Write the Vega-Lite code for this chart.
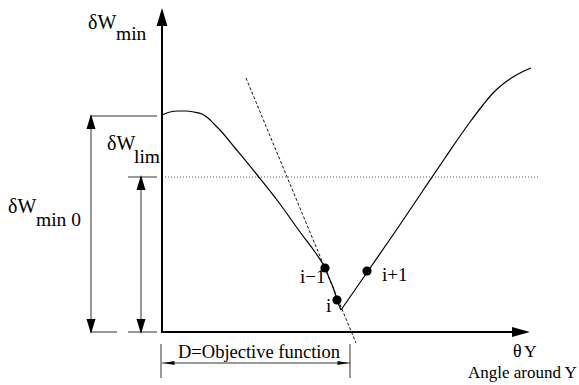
{
  "$schema": "https://vega.github.io/schema/vega-lite/v6.json",
  "width": 579,
  "height": 385,
  "padding": 0,
  "autosize": {"type": "fit", "contains": "padding"},
  "background": "white",
  "config": {"view": {"stroke": null}},
  "datasets": {
    "lines": [
      {"kind": "axis", "seg": "axes", "o": 1, "x": 0, "y": 316},
      {"kind": "axis", "seg": "axes", "o": 2, "x": 0, "y": 0},
      {"kind": "axis", "seg": "axes", "o": 3, "x": 360, "y": 0},

      {"kind": "dim", "seg": "d1", "o": 1, "x": -71, "y": 216},
      {"kind": "dim", "seg": "d1", "o": 2, "x": -5, "y": 216},
      {"kind": "dim", "seg": "d2", "o": 1, "x": -71, "y": 216},
      {"kind": "dim", "seg": "d2", "o": 2, "x": -71, "y": 0},
      {"kind": "dim", "seg": "d3", "o": 1, "x": -71, "y": 0},
      {"kind": "dim", "seg": "d3", "o": 2, "x": -45, "y": 0},
      {"kind": "dim", "seg": "d4", "o": 1, "x": -34, "y": 0},
      {"kind": "dim", "seg": "d4", "o": 2, "x": -5, "y": 0},
      {"kind": "dim", "seg": "d5", "o": 1, "x": -34, "y": 155},
      {"kind": "dim", "seg": "d5", "o": 2, "x": -5, "y": 155},
      {"kind": "dim", "seg": "d6", "o": 1, "x": -21, "y": 155},
      {"kind": "dim", "seg": "d6", "o": 2, "x": -21, "y": 0},
      {"kind": "dim", "seg": "d7", "o": 1, "x": 0, "y": -31},
      {"kind": "dim", "seg": "d7", "o": 2, "x": 188, "y": -31},
      {"kind": "dim", "seg": "d8", "o": 1, "x": -1, "y": -12},
      {"kind": "dim", "seg": "d8", "o": 2, "x": -1, "y": -46},
      {"kind": "dim", "seg": "d9", "o": 1, "x": 188, "y": -12},
      {"kind": "dim", "seg": "d9", "o": 2, "x": 188, "y": -46},

      {"kind": "limit", "seg": "lim", "o": 1, "x": 0, "y": 155},
      {"kind": "limit", "seg": "lim", "o": 2, "x": 376, "y": 155},

      {"kind": "tangent", "seg": "tan", "o": 1, "x": 84, "y": 254},
      {"kind": "tangent", "seg": "tan", "o": 2, "x": 194, "y": -11},

      {"kind": "curve", "seg": "c1", "o": 1, "x": 0, "y": 217},
      {"kind": "curve", "seg": "c1", "o": 2, "x": 8, "y": 220},
      {"kind": "curve", "seg": "c1", "o": 3, "x": 16, "y": 221},
      {"kind": "curve", "seg": "c1", "o": 4, "x": 24, "y": 221},
      {"kind": "curve", "seg": "c1", "o": 5, "x": 32, "y": 220},
      {"kind": "curve", "seg": "c1", "o": 6, "x": 40, "y": 218},
      {"kind": "curve", "seg": "c1", "o": 7, "x": 46, "y": 214},
      {"kind": "curve", "seg": "c1", "o": 8, "x": 52, "y": 208},
      {"kind": "curve", "seg": "c1", "o": 9, "x": 58, "y": 202},
      {"kind": "curve", "seg": "c1", "o": 10, "x": 73, "y": 184},
      {"kind": "curve", "seg": "c1", "o": 11, "x": 96, "y": 156},
      {"kind": "curve", "seg": "c1", "o": 12, "x": 118, "y": 128},
      {"kind": "curve", "seg": "c1", "o": 13, "x": 138, "y": 100},
      {"kind": "curve", "seg": "c1", "o": 14, "x": 153, "y": 80},
      {"kind": "curve", "seg": "c1", "o": 15, "x": 163, "y": 64},
      {"kind": "curve", "seg": "c1", "o": 16, "x": 168, "y": 52},
      {"kind": "curve", "seg": "c1", "o": 17, "x": 172, "y": 42},
      {"kind": "curve", "seg": "c1", "o": 18, "x": 175, "y": 32},
      {"kind": "curve", "seg": "c1", "o": 19, "x": 179, "y": 22},
      {"kind": "curve", "seg": "c2", "o": 1, "x": 179, "y": 22},
      {"kind": "curve", "seg": "c2", "o": 2, "x": 206, "y": 61},
      {"kind": "curve", "seg": "c2", "o": 3, "x": 233, "y": 100},
      {"kind": "curve", "seg": "c2", "o": 4, "x": 260, "y": 140},
      {"kind": "curve", "seg": "c2", "o": 5, "x": 283, "y": 174},
      {"kind": "curve", "seg": "c2", "o": 6, "x": 308, "y": 210},
      {"kind": "curve", "seg": "c2", "o": 7, "x": 321, "y": 227},
      {"kind": "curve", "seg": "c2", "o": 8, "x": 331, "y": 239},
      {"kind": "curve", "seg": "c2", "o": 9, "x": 341, "y": 248},
      {"kind": "curve", "seg": "c2", "o": 10, "x": 351, "y": 255},
      {"kind": "curve", "seg": "c2", "o": 11, "x": 360, "y": 260},
      {"kind": "curve", "seg": "c2", "o": 12, "x": 369, "y": 264}
    ],
    "heads": [
      {"kind": "axis", "dir": "up", "x": 0, "y": 315},
      {"kind": "axis", "dir": "right", "x": 359, "y": 0},
      {"kind": "dim", "dir": "up", "x": -71, "y": 210.5},
      {"kind": "dim", "dir": "down", "x": -71, "y": 5.5},
      {"kind": "dim", "dir": "up", "x": -21, "y": 149.5},
      {"kind": "dim", "dir": "down", "x": -21, "y": 5.5},
      {"kind": "span", "dir": "left-thin", "x": 7, "y": -31},
      {"kind": "span", "dir": "right-thin", "x": 181, "y": -31}
    ],
    "points": [
      {"name": "i-1", "x": 163, "y": 64},
      {"name": "i", "x": 175, "y": 32},
      {"name": "i+1", "x": 205, "y": 61}
    ],
    "labels": [
      {"role": "main", "text": "δW", "x": -74, "y": 303},
      {"role": "sub", "text": "min", "x": -46, "y": 292},
      {"role": "main", "text": "δW", "x": -55, "y": 182},
      {"role": "sub", "text": "lim", "x": -28, "y": 169},
      {"role": "main", "text": "δW", "x": -154, "y": 119},
      {"role": "sub", "text": "min 0", "x": -126, "y": 106},
      {"role": "point", "text": "i−1", "x": 138, "y": 49},
      {"role": "point", "text": "i", "x": 164, "y": 20},
      {"role": "point", "text": "i+1", "x": 220, "y": 51},
      {"role": "span", "text": "D=Objective function", "x": 16, "y": -26},
      {"role": "theta", "text": "θ", "x": 351, "y": -25},
      {"role": "thetasub", "text": "Y", "x": 362, "y": -25},
      {"role": "note", "text": "Angle around Y", "x": 306, "y": -46}
    ]
  },
  "encoding": {
    "x": {"field": "x", "type": "quantitative", "axis": null,
          "scale": {"domain": [-162, 417], "nice": false, "zero": false}},
    "y": {"field": "y", "type": "quantitative", "axis": null,
          "scale": {"domain": [-53, 332], "nice": false, "zero": false}}
  },
  "resolve": {"scale": {"size": "independent", "shape": "independent"}},
  "layer": [
    {
      "data": {"name": "lines"},
      "transform": [{"filter": "datum.kind === 'limit'"}],
      "mark": {"type": "line", "color": "#555555", "strokeWidth": 1, "strokeDash": [1, 2]},
      "encoding": {"detail": {"field": "seg"}, "order": {"field": "o", "type": "quantitative"}}
    },
    {
      "data": {"name": "lines"},
      "transform": [{"filter": "datum.kind === 'tangent'"}],
      "mark": {"type": "line", "color": "#111111", "strokeWidth": 1, "strokeDash": [3, 2]},
      "encoding": {"detail": {"field": "seg"}, "order": {"field": "o", "type": "quantitative"}}
    },
    {
      "data": {"name": "lines"},
      "transform": [{"filter": "datum.kind === 'dim'"}],
      "mark": {"type": "line", "color": "#333333", "strokeWidth": 1},
      "encoding": {"detail": {"field": "seg"}, "order": {"field": "o", "type": "quantitative"}}
    },
    {
      "data": {"name": "lines"},
      "transform": [{"filter": "datum.kind === 'curve'"}],
      "mark": {"type": "line", "color": "#000000", "strokeWidth": 1.2, "interpolate": "monotone"},
      "encoding": {"detail": {"field": "seg"}, "order": {"field": "o", "type": "quantitative"}}
    },
    {
      "data": {"name": "lines"},
      "transform": [{"filter": "datum.kind === 'axis'"}],
      "mark": {"type": "line", "color": "#000000", "strokeWidth": 2, "strokeJoin": "miter"},
      "encoding": {"detail": {"field": "seg"}, "order": {"field": "o", "type": "quantitative"}}
    },
    {
      "data": {"name": "heads"},
      "mark": {"type": "point", "filled": true, "color": "#000000", "opacity": 1, "strokeWidth": 0},
      "encoding": {
        "shape": {"field": "dir", "type": "nominal", "legend": null,
          "scale": {"domain": ["up", "down", "right", "left-thin", "right-thin"],
                    "range": ["M0,-1L-0.6,1L0.6,1Z", "M0,1L-0.6,-1L0.6,-1Z", "M1,0L-1,-0.55L-1,0.55Z", "M-1,0L1,-0.36L1,0.36Z", "M1,0L-1,-0.36L-1,0.36Z"]}},
        "size": {"field": "kind", "type": "nominal", "legend": null,
          "scale": {"domain": ["axis", "dim", "span"], "range": [324, 121, 196]}}
      }
    },
    {
      "data": {"name": "points"},
      "mark": {"type": "circle", "color": "#000000", "opacity": 1, "size": 85}
    },
    {
      "data": {"name": "labels"},
      "mark": {"type": "text", "align": "left", "baseline": "alphabetic", "font": "Liberation Serif", "color": "#000000"},
      "encoding": {
        "text": {"field": "text"},
        "size": {"field": "role", "type": "nominal", "legend": null,
          "scale": {"domain": ["main", "sub", "point", "span", "theta", "thetasub", "note"],
                    "range": [20, 17, 16, 17, 17, 11, 15]}}
      }
    }
  ]
}
